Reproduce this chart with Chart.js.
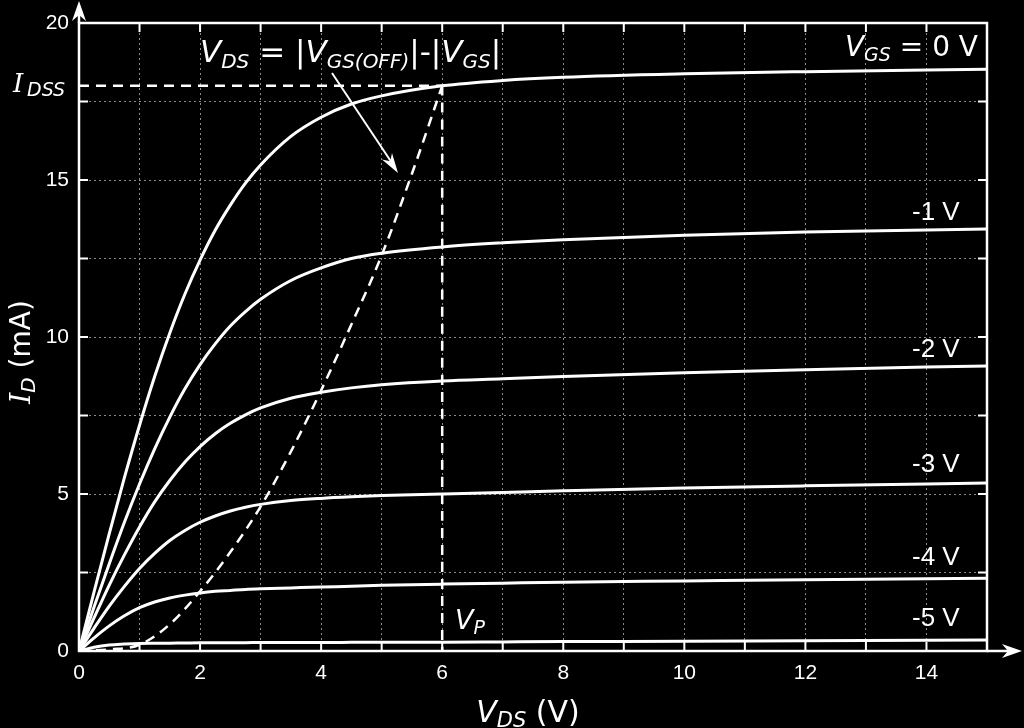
<!DOCTYPE html>
<html>
<head>
<meta charset="utf-8">
<script src="https://cdn.jsdelivr.net/npm/chart.js@4.4.1/dist/chart.umd.min.js"></script>
<style>
  html, body { margin: 0; padding: 0; background: #000; }
  canvas { display: block; }
</style>
</head>
<body>
<canvas id="jfetChart" width="1024" height="728"></canvas>
<script>
// drain characteristic
var vds = [0, 0.25, 0.5, 0.75, 1, 1.25, 1.5, 1.75, 2, 2.25, 2.5, 2.75, 3, 3.5, 4, 4.5, 5, 6, 7, 8, 10, 12, 15];
var idVgs0 = [0, 1.89, 3.74, 5.52, 7.19, 8.74, 10.13, 11.37, 12.45, 13.4, 14.2, 14.9, 15.48, 16.39, 17.0, 17.42, 17.68, 18.0, 18.17, 18.27, 18.38, 18.45, 18.53];
var idVgs1 = [0, 1.41, 2.78, 4.1, 5.32, 6.44, 7.45, 8.35, 9.12, 9.78, 10.35, 10.81, 11.2, 11.8, 12.2, 12.5, 12.67, 12.87, 13.0, 13.1, 13.24, 13.34, 13.44];
var idVgs2 = [0, 1.06, 2.1, 3.06, 3.95, 4.75, 5.43, 6.02, 6.51, 6.92, 7.25, 7.52, 7.74, 8.05, 8.24, 8.38, 8.48, 8.6, 8.67, 8.74, 8.86, 8.96, 9.08];
var idVgs3 = [0, 0.73, 1.43, 2.06, 2.63, 3.11, 3.52, 3.84, 4.1, 4.3, 4.46, 4.58, 4.67, 4.79, 4.86, 4.91, 4.95, 5.0, 5.05, 5.1, 5.19, 5.26, 5.35];
var idVgs4 = [0, 0.42, 0.8, 1.12, 1.38, 1.56, 1.69, 1.78, 1.85, 1.9, 1.93, 1.96, 1.98, 2.01, 2.04, 2.06, 2.09, 2.13, 2.16, 2.19, 2.23, 2.27, 2.32];
var idVgs5 = [0, 0.12, 0.19, 0.22, 0.24, 0.245, 0.25, 0.255, 0.26, 0.26, 0.265, 0.265, 0.27, 0.27, 0.27, 0.275, 0.28, 0.28, 0.29, 0.3, 0.31, 0.33, 0.35];
var curveLabels = ["-5 V", "-4 V", "-3 V", "-2 V", "-1 V"];

// pinch-off locus (dashed)
var locusVds = [0, 0.5, 1, 1.5, 2, 2.5, 3, 3.5, 4, 4.5, 5, 5.5, 6];
var locusId = [0, 0.05, 0.2, 0.85, 1.9, 3.15, 4.6, 6.35, 8.3, 10.4, 12.6, 15.2, 18];

var idss = 18;
var vp = 6;

var xTicks = [0, 2, 4, 6, 8, 10, 12, 14];
var yTicks = [0, 5, 10, 15, 20];

function pts(xs, ys) {
    return xs.map(function (v, i) { return { x: v, y: ys[i] }; });
}

function curve(ys) {
    return {
        data: pts(vds, ys),
        borderColor: "#fff",
        borderWidth: 3,
        pointRadius: 0,
        showLine: true,
        cubicInterpolationMode: "monotone"
    };
}

function dashed(data) {
    return {
        data: data,
        borderColor: "#fff",
        borderWidth: 2.5,
        borderDash: [10, 7],
        pointRadius: 0,
        showLine: true,
        cubicInterpolationMode: "monotone"
    };
}

// draws a string made of parts: [text, kind] kind = n | i | s
function richText(ctx, x, y, parts, size, subSize, align) {
    var fonts = {
        n: size + "px 'DejaVu Sans'",
        i: "oblique " + size + "px 'DejaVu Sans'",
        s: "oblique " + subSize + "px 'DejaVu Sans'"
    };
    var w = 0;
    parts.forEach(function (p) { ctx.font = fonts[p[1]]; w += ctx.measureText(p[0]).width; });
    var cx = align === "center" ? x - w / 2 : (align === "right" ? x - w : x);
    ctx.textAlign = "left";
    ctx.textBaseline = "alphabetic";
    parts.forEach(function (p) {
        ctx.font = fonts[p[1]];
        ctx.fillText(p[0], cx, p[1] === "s" ? y + size * 0.18 : y);
        cx += ctx.measureText(p[0]).width;
    });
}

function arrowHead(ctx, x1, y1, x2, y2, len, half) {
    var ang = Math.atan2(y2 - y1, x2 - x1);
    ctx.beginPath();
    ctx.moveTo(x2, y2);
    ctx.lineTo(x2 - len * Math.cos(ang) + half * Math.sin(ang), y2 - len * Math.sin(ang) - half * Math.cos(ang));
    ctx.lineTo(x2 - len * 0.7 * Math.cos(ang), y2 - len * 0.7 * Math.sin(ang));
    ctx.lineTo(x2 - len * Math.cos(ang) - half * Math.sin(ang), y2 - len * Math.sin(ang) + half * Math.cos(ang));
    ctx.closePath();
    ctx.fill();
}

var background = {
    id: "background",
    beforeDraw: function (chart) {
        var ctx = chart.ctx;
        ctx.save();
        ctx.fillStyle = "#000";
        ctx.fillRect(0, 0, chart.width, chart.height);
        ctx.restore();
    }
};

var decor = {
    id: "decor",
    afterDraw: function (chart) {
        var ctx = chart.ctx, a = chart.chartArea;
        var sx = chart.scales.x, sy = chart.scales.y;
        ctx.save();
        ctx.strokeStyle = "#fff";
        ctx.fillStyle = "#fff";

        // inward ticks on all four sides
        ctx.lineWidth = 2;
        ctx.beginPath();
        for (var v = 1; v < 15; v++) {
            var px = sx.getPixelForValue(v);
            ctx.moveTo(px, a.bottom); ctx.lineTo(px, a.bottom - 9);
            ctx.moveTo(px, a.top); ctx.lineTo(px, a.top + 9);
        }
        for (var w = 2.5; w < 20; w += 2.5) {
            var py = sy.getPixelForValue(w);
            ctx.moveTo(a.left, py); ctx.lineTo(a.left + 9, py);
            ctx.moveTo(a.right, py); ctx.lineTo(a.right - 9, py);
        }
        ctx.stroke();

        // box
        ctx.lineWidth = 2.5;
        ctx.strokeRect(a.left, a.top, a.right - a.left, a.bottom - a.top);

        // axis arrows
        ctx.beginPath();
        ctx.moveTo(a.left, a.top); ctx.lineTo(a.left, 6);
        ctx.moveTo(a.right, a.bottom); ctx.lineTo(1016, a.bottom);
        ctx.stroke();
        arrowHead(ctx, a.left, a.top, a.left, 1, 20, 7);
        arrowHead(ctx, a.right, a.bottom, 1022, a.bottom, 20, 7);

        // curve labels
        ctx.font = "26px 'Liberation Sans'";
        ctx.textAlign = "left";
        ctx.textBaseline = "alphabetic";
        var labelY = [626, 565, 472, 357, 220];
        curveLabels.forEach(function (t, i) { ctx.fillText(t, 912, labelY[i]); });
        richText(ctx, 978, 56, [["V", "i"], ["GS", "s"], [" = 0 V", "n"]], 28, 19, "right");

        // formula and pointer
        richText(ctx, 200, 62, [["V", "i"], ["DS", "s"], [" = |", "n"], ["V", "i"], ["GS(OFF)", "s"], ["|-|", "n"], ["V", "i"], ["GS", "s"], ["|", "n"]], 31, 20, "left");
        ctx.lineWidth = 2;
        ctx.beginPath();
        ctx.moveTo(332, 73); ctx.lineTo(392, 163);
        ctx.stroke();
        arrowHead(ctx, 332, 73, 398, 173, 20, 6);

        // I_DSS and V_P
        ctx.font = "italic 26px 'DejaVu Serif'";
        ctx.fillText("I", 13, 92);
        ctx.font = "oblique 19px 'DejaVu Sans'";
        ctx.fillText("DSS", 27, 96);
        richText(ctx, 455, 629, [["V", "i"], ["P", "s"]], 27, 19, "left");

        // axis titles
        richText(ctx, 528, 722, [["V", "i"], ["DS", "s"], [" (V)", "n"]], 30, 21, "center");
        ctx.translate(30, 352);
        ctx.rotate(-Math.PI / 2);
        ctx.font = "italic 28px 'DejaVu Serif'";
        var wI = ctx.measureText("I").width;
        ctx.font = "oblique 20px 'DejaVu Sans'";
        var wD = ctx.measureText("D").width;
        ctx.font = "28px 'DejaVu Sans'";
        var wR = ctx.measureText(" (mA)").width;
        var x0 = -(wI + wD + wR) / 2;
        ctx.font = "italic 28px 'DejaVu Serif'";
        ctx.fillText("I", x0, 0);
        ctx.font = "oblique 20px 'DejaVu Sans'";
        ctx.fillText("D", x0 + wI, 5);
        ctx.font = "28px 'DejaVu Sans'";
        ctx.fillText(" (mA)", x0 + wI + wD, 0);
        ctx.restore();
    }
};

document.addEventListener("DOMContentLoaded", function () {
    var ctx = document.getElementById("jfetChart").getContext("2d");
    new Chart(ctx, {
        type: "scatter",
        data: {
            datasets: [
                curve(idVgs0), curve(idVgs1), curve(idVgs2), curve(idVgs3), curve(idVgs4), curve(idVgs5),
                dashed(pts(locusVds, locusId)),
                dashed([{ x: 0, y: idss }, { x: vp, y: idss }]),
                dashed([{ x: vp, y: idss }, { x: vp, y: 0 }])
            ]
        },
        options: {
            responsive: false,
            animation: false,
            devicePixelRatio: 1,
            layout: { padding: { top: 23, right: 37, left: 0, bottom: 0 } },
            plugins: { legend: { display: false }, tooltip: { enabled: false } },
            scales: {
                x: {
                    type: "linear",
                    min: 0,
                    max: 15,
                    afterFit: function (s) { s.height = 77; },
                    afterBuildTicks: function (s) {
                        s.ticks = [];
                        for (var v = 0; v <= 15; v++) s.ticks.push({ value: v });
                    },
                    ticks: {
                        color: "#fff",
                        font: { family: "Liberation Sans", size: 21 },
                        padding: 10,
                        maxRotation: 0,
                        autoSkip: false,
                        callback: function (v) { return xTicks.indexOf(v) >= 0 ? String(v) : ""; }
                    },
                    grid: { color: "#8a8a8a", lineWidth: 1, drawTicks: false },
                    border: { display: false, dash: [2, 3] }
                },
                y: {
                    type: "linear",
                    min: 0,
                    max: 20,
                    afterFit: function (s) { s.width = 79; },
                    afterBuildTicks: function (s) {
                        s.ticks = [];
                        for (var v = 0; v <= 20; v += 2.5) s.ticks.push({ value: v });
                    },
                    ticks: {
                        color: "#fff",
                        font: { family: "Liberation Sans", size: 21 },
                        padding: 10,
                        autoSkip: false,
                        callback: function (v) { return yTicks.indexOf(v) >= 0 ? String(v) : ""; }
                    },
                    grid: { color: "#8a8a8a", lineWidth: 1, drawTicks: false },
                    border: { display: false, dash: [2, 3] }
                }
            }
        },
        plugins: [background, decor]
    });
});
</script>
</body>
</html>
